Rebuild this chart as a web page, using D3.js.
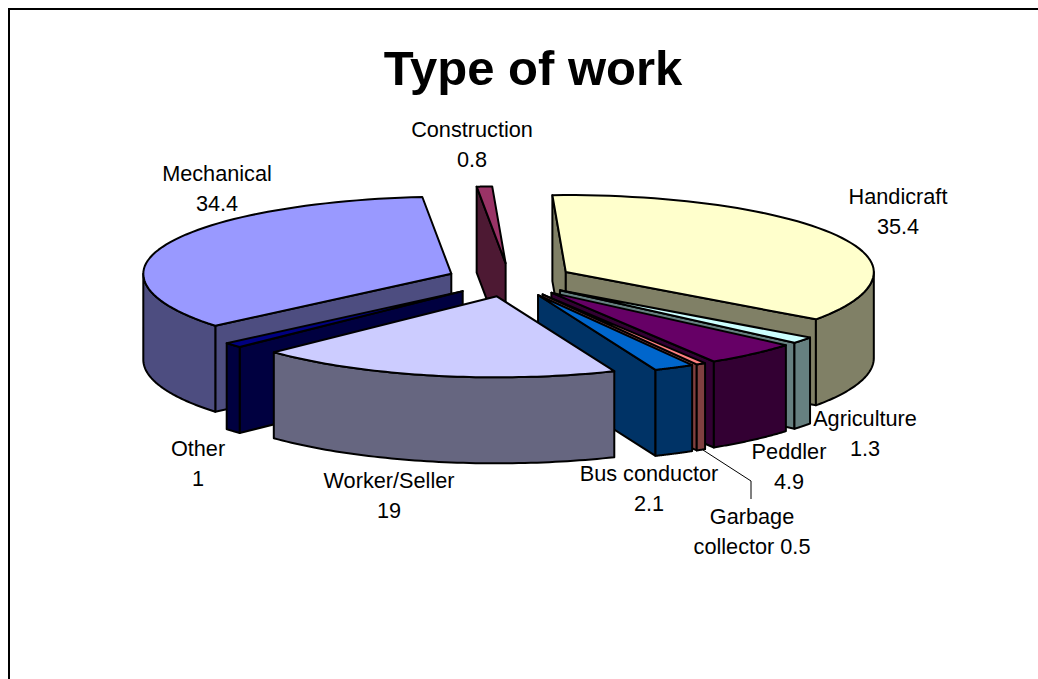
<!DOCTYPE html>
<html>
<head>
<meta charset="utf-8">
<script src="https://cdnjs.cloudflare.com/ajax/libs/d3/7.8.5/d3.min.js"></script>
<style>
  html, body { margin: 0; padding: 0; background: #fff; }
  svg { display: block; }
  text { font-family: "Liberation Sans", Arial, sans-serif; fill: #000; }
</style>
</head>
<body>
<div id="chart"></div>
<script>
// data
const categories = ["Handicraft", "Agriculture", "Peddler", "Garbage collector", "Bus conductor", "Worker/Seller", "Other", "Mechanical", "Construction"];
const values = [35.4, 1.3, 4.9, 0.5, 2.1, 19, 1, 34.4, 0.8];
const topColors = ["#FFFFCC", "#CCFFFF", "#660066", "#FF8080", "#0066CC", "#CCCCFF", "#000080", "#9999FF", "#993366"];
const sideColors = ["#808066", "#668080", "#330033", "#804040", "#003366", "#666680", "#000040", "#4D4D80", "#4D1933"];
// back to front
const drawOrder = ["Handicraft", "Agriculture", "Peddler", "Garbage collector", "Bus conductor", "Mechanical", "Other", "Construction", "Worker/Seller"];

const width = 1038, height = 679;
const cx = 510, cy = 280, rx = 308, depth = 86, explode = 0.206;
// the far half of the pie is a little flatter than the near half
const ryBack = 77, ryFront = 81;
const firstAngle = -2.5 * Math.PI / 180;

const svg = d3.select("#chart").append("svg")
  .attr("width", width)
  .attr("height", height);

// chart border
svg.append("path")
  .attr("d", "M9,679V9H1038")
  .attr("fill", "none")
  .attr("stroke", "#000")
  .attr("stroke-width", 2);

svg.append("text")
  .attr("x", 533).attr("y", 85)
  .attr("text-anchor", "middle")
  .attr("font-size", 49)
  .attr("font-weight", "bold")
  .text("Type of work");

const pie = d3.pie().sort(null).startAngle(firstAngle).endAngle(firstAngle + 2 * Math.PI);
const arcs = pie(values);

// angle is clockwise from the top of the pie, as in d3.arc
function rim(a, o, dy) {
  const c = Math.cos(a);
  return [o[0] + rx * Math.sin(a), o[1] - (c > 0 ? ryBack : ryFront) * c + (dy || 0)];
}

function wallVisible(o, a, mid) {
  const p = rim(a, o), q = rim(mid, o);
  const dx = p[0] - o[0], dy = p[1] - o[1];
  return q[1] - o[1] < (q[0] - o[0]) * dy / dx;
}

const line = d3.line();

function arcPoints(a0, a1, o, dy) {
  return d3.range(0, 61).map(i => rim(a0 + (a1 - a0) * i / 60, o, dy));
}

drawOrder.forEach(name => {
  const i = categories.indexOf(name);
  const d = arcs[i];
  const mid = (d.startAngle + d.endAngle) / 2;
  const o = [cx + explode * rx * Math.sin(mid), cy - explode * ryFront * Math.cos(mid)];
  const g = svg.append("g")
    .attr("stroke", "#000")
    .attr("stroke-width", 2)
    .attr("stroke-linejoin", "round");

  // cut faces
  [d.startAngle, d.endAngle].forEach(a => {
    if (!wallVisible(o, a, mid)) return;
    const p = rim(a, o);
    g.append("path")
      .attr("fill", sideColors[i])
      .attr("d", line([o, p, [p[0], p[1] + depth], [o[0], o[1] + depth]]) + "Z");
  });

  // outer wall, only on the front half
  const a0 = Math.max(d.startAngle, Math.PI / 2);
  const a1 = Math.min(d.endAngle, 3 * Math.PI / 2);
  if (a1 > a0) {
    const upper = arcPoints(a0, a1, o, 0);
    const lower = arcPoints(a1, a0, o, depth);
    g.append("path")
      .attr("fill", sideColors[i])
      .attr("d", line(upper.concat(lower)) + "Z");
  }

  // top face
  g.append("path")
    .attr("fill", topColors[i])
    .attr("d", line([o].concat(arcPoints(d.startAngle, d.endAngle, o, 0))) + "Z");
});

// labels
const labelLines = [
  ["Handicraft", "35.4"],
  ["Agriculture", "1.3"],
  ["Peddler", "4.9"],
  ["Garbage", "collector 0.5"],
  ["Bus conductor", "2.1"],
  ["Worker/Seller", "19"],
  ["Other", "1"],
  ["Mechanical", "34.4"],
  ["Construction", "0.8"]
];
const labelX = [898, 865, 789, 752, 649, 389, 198, 217, 472];
const labelY = [204, 426, 459, 524, 481, 488, 456, 181, 137];

labelLines.forEach((lines, i) => {
  lines.forEach((t, j) => {
    svg.append("text")
      .attr("x", labelX[i])
      .attr("y", labelY[i] + j * 30)
      .attr("text-anchor", "middle")
      .attr("font-size", 21.7)
      .text(t);
  });
});

// leader line for the garbage collector label
svg.append("path")
  .attr("d", line([[703, 450], [751, 481], [751, 499]]))
  .attr("fill", "none")
  .attr("stroke", "#000")
  .attr("stroke-width", 1);
</script>
</body>
</html>
